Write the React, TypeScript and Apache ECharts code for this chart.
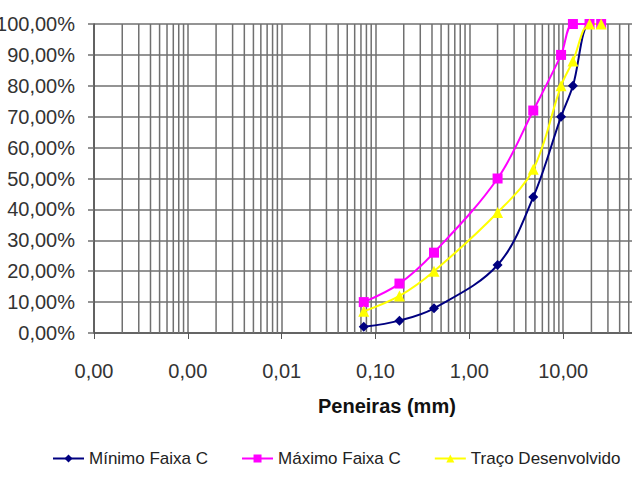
import React, { useEffect, useRef } from 'react';
import * as echarts from 'echarts';

const FONT = '"Liberation Sans", Arial, sans-serif';

// Peneiras (mm)
const sieves = [0.075, 0.18, 0.42, 2.0, 4.8, 9.5, 12.7, 19.1, 25.4];
// % passante
const minimoFaixaC = [2, 4, 8, 22, 44, 70, 80, 100, 100];
const maximoFaixaC = [10, 16, 26, 50, 72, 90, 100, 100, 100];
const tracoDesenvolvido = [7, 12, 20, 39, 53, 80, 88, 100, 100];

const decades = [0.0001, 0.001, 0.01, 0.1, 1, 10];
const minorMultipliers = [2, 3, 4, 5, 6, 7, 8, 9];

const fmtNum = (v: number) => v.toFixed(2).replace('.', ',');

export default function App() {
  const ref = useRef<HTMLDivElement>(null);
  useEffect(() => {
    const chart = echarts.init(ref.current!, null, { renderer: 'svg' });
    const minorLines: number[][] = [];
    decades.forEach((d) => minorMultipliers.forEach((m) => minorLines.push([d * m, 0])));
    const gridColor = '#707070';
    const mk = (arr: number[]) => sieves.map((s, i) => [s, arr[i]]);
    chart.setOption({
      animation: false,
      backgroundColor: '#ffffff',
      grid: { left: 94, top: 24, bottom: 144, right: -25, containLabel: false, outerBoundsMode: 'none' },
      xAxis: {
        type: 'log',
        logBase: 10,
        min: 0.0001,
        max: 100,
        axisLine: { show: true, lineStyle: { color: '#555', width: 1.6 } },
        axisTick: { show: true, length: 6, lineStyle: { color: '#555' } },
        axisLabel: {
          fontFamily: FONT,
          fontSize: 20,
          color: '#333',
          margin: 28,
          formatter: (v: number) => (v >= 99 ? '' : fmtNum(v)),
        },
        splitLine: { show: true, lineStyle: { color: gridColor, width: 1.5 } },
      },
      yAxis: {
        type: 'value',
        min: 0,
        max: 100,
        interval: 10,
        axisLine: { show: true, lineStyle: { color: '#555', width: 1.6 } },
        axisTick: { show: true, length: 6, lineStyle: { color: gridColor, width: 1.5 } },
        axisLabel: {
          fontFamily: FONT,
          fontSize: 20,
          color: '#333',
          margin: 19,
          formatter: (v: number) => fmtNum(v) + '%',
        },
        splitLine: { show: true, lineStyle: { color: gridColor, width: 1.6 } },
      },
      legend: {
        bottom: 5,
        left: 47,
        itemWidth: 31,
        itemHeight: 10,
        itemGap: 33,
        textStyle: { fontFamily: FONT, fontSize: 17, color: '#222' },
        data: ['Mínimo Faixa C', 'Máximo Faixa C', 'Traço Desenvolvido'],
      },
      graphic: [
        {
          type: 'text',
          left: 318,
          top: 396,
          style: {
            text: 'Peneiras (mm)',
            font: `bold 20px ${FONT}`,
            fill: '#111',
          },
        },
      ],
      series: [
        {
          name: 'grade',
          type: 'custom',
          silent: true,
          z: 1,
          data: minorLines,
          renderItem: (params: any, api: any) => {
            const x = api.value(0);
            const p1 = api.coord([x, 0]);
            const p2 = api.coord([x, 100]);
            return {
              type: 'line',
              shape: { x1: p1[0], y1: p1[1], x2: p2[0], y2: p2[1] },
              style: { stroke: gridColor, lineWidth: 1.5 },
            };
          },
        },
        {
          name: 'Mínimo Faixa C',
          type: 'line',
          smooth: 0.35,
          data: mk(minimoFaixaC),
          symbol: 'diamond',
          symbolSize: 10,
          lineStyle: { color: '#000080', width: 2 },
          itemStyle: { color: '#000080' },
        },
        {
          name: 'Máximo Faixa C',
          type: 'line',
          smooth: 0.35,
          data: mk(maximoFaixaC),
          symbol: 'rect',
          symbolSize: 10,
          lineStyle: { color: '#FF00FF', width: 2 },
          itemStyle: { color: '#FF00FF' },
        },
        {
          name: 'Traço Desenvolvido',
          type: 'line',
          smooth: 0.35,
          data: mk(tracoDesenvolvido),
          symbol: 'triangle',
          symbolSize: 11,
          lineStyle: { color: '#FFFF00', width: 2 },
          itemStyle: { color: '#FFFF00' },
        },
      ],
    });
    return () => chart.dispose();
  }, []);
  return (
    <div
      ref={ref}
      style={{ position: 'absolute', left: 0, top: 0, width: 632, height: 477, background: '#fff' }}
    />
  );
}
